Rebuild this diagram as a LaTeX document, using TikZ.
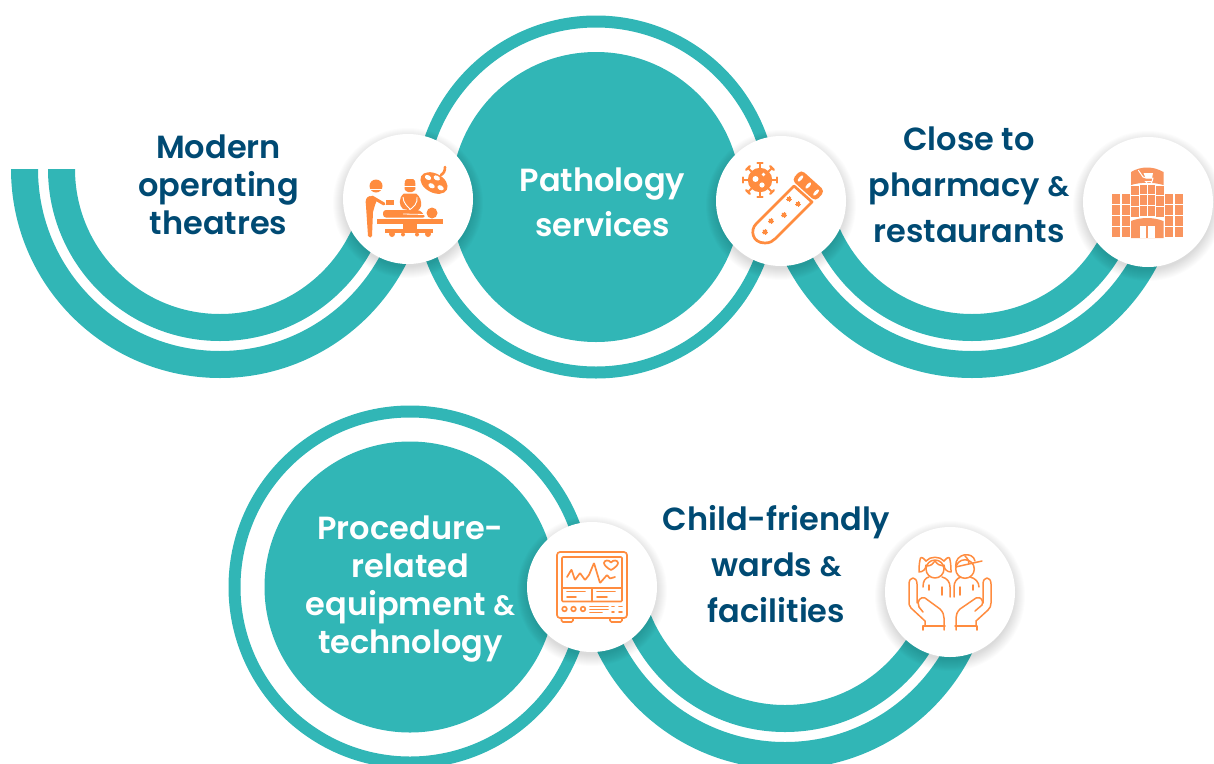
\documentclass[tikz,border=0pt]{standalone}
\usepackage{fontspec}
\setmainfont{Poppins SemiBold}
\usetikzlibrary{calc}
\definecolor{teal1}{HTML}{31B6B6}
\definecolor{navy1}{HTML}{004A73}
\definecolor{org1}{HTML}{FF8C3F}
\definecolor{org2}{HTML}{F9955F}
\newcommand{\amp}{{\fontsize{28}{38}\selectfont\&}}
\tikzset{
  band/.style={draw=teal1,line width=27pt},
  thinring/.style={draw=teal1,line width=12pt},
  disc/.style={circle,fill=teal1,inner sep=0pt,minimum size=#1},
  badge/.style={circle,fill=white,inner sep=0pt,minimum size=130pt},
  dark/.style={text=navy1,align=center,font=\fontsize{32}{#1}\selectfont,inner sep=0pt},
  light/.style={text=white,align=center,font=\fontsize{32}{#1}\selectfont,inner sep=0pt},
  ico/.style={draw=org1,line width=1.9pt,line cap=round,line join=round},
}
\newcommand{\softshadow}[1]{%
  \foreach \r in {75,74,...,64}{\fill[black,opacity=0.012] ($(#1)+(0,4)$) circle[radius=\r];}}
\begin{document}
\begin{tikzpicture}[x=1pt,y=-1pt]
\useasboundingbox (0,0) rectangle (1214,763);
\clip (0,0) rectangle (1214,763);
% centres
\coordinate (a1) at (220,169);
\coordinate (a3) at (972,169);
\coordinate (a5) at (785,560);
\coordinate (m1) at (596,197);
\coordinate (m2) at (410,587);
% arcs
\begin{scope}
\clip (0,169) rectangle (1214,400);
\draw[band] (a1) circle[radius=195.5];
\draw[band] (a1) circle[radius=158.5];
\draw[band] (a3) circle[radius=195.5];
\draw[band] (a3) circle[radius=158.5];
\end{scope}
\begin{scope}
\clip (500,560) rectangle (1214,763);
\draw[band] (a5) circle[radius=195.5];
\draw[band] (a5) circle[radius=158.5];
\end{scope}
% rings and discs
\draw[thinring] (m1) circle[radius=175.5];
\draw[thinring] (m2) circle[radius=175.5];
\node[disc=290pt] (d1) at (m1) {};
\node[disc=291pt] (d2) at (m2) {};
% badges
\coordinate (b1) at (408,199);
\coordinate (b2) at (781,201);
\coordinate (b3) at (1148,202);
\coordinate (b4) at (592,587);
\coordinate (b5) at (950,592);
\softshadow{b1}\softshadow{b2}\softshadow{b3}\softshadow{b4}\softshadow{b5}
\node[badge] (n1) at (b1) {};
\node[badge] (n2) at (b2) {};
\node[badge] (n3) at (b3) {};
\node[badge] (n4) at (b4) {};
\node[badge] (n5) at (b5) {};
% texts
\node[dark=38] (t1) at (218.5,185) {Modern\\operating\\theatres};
\node[light=45] (t2) at (602.5,202) {Pathology\\services};
\node[dark=46] (t3) at (969,185) {Close to\\pharmacy \amp\\restaurants};
\node[light=38] (t4) at (410.5,589.5) {Procedure-\\related\\equipment \amp\\technology};
\node[dark=46] (t5) at (776.5,564) {Child-friendly\\wards \amp\\facilities};
% ---- icon 1: operating theatre
\begin{scope}
\fill[org1] (376,186) circle[radius=6.5];
\fill[white] (369,188.6) rectangle (383,189.6);
\fill[org1] (370,196) .. controls (366,197) and (365,200) .. (366,206) -- (368,236) .. controls (369,238) and (372,238) .. (372,236) -- (373,212) -- (375,205) -- (377,200) -- cycle;
\draw[org1,line width=3pt,line cap=round] (372,197) -- (384,204);
\fill[org1] (385.5,200) rectangle (394,205);
\fill[org1,rounded corners=2pt] (405,179) -- (415,179) -- (415.5,187) .. controls (415.5,190) and (413,192) .. (410,192) .. controls (407,192) and (404.5,190) .. (404.5,187) -- cycle;
\fill[white] (404,186.4) rectangle (416,187.2);
\fill[org1] (404,193.5) -- (416,193.5) .. controls (420,196) and (422,202) .. (421,206) .. controls (420,210) and (417,211) .. (414,211) -- (403,209) .. controls (399,206) and (398,198) .. (404,193.5) -- cycle;
\draw[white,line width=0.9pt] (403,197) .. controls (403,203) and (408,207) .. (410,209);
\draw[white,line width=0.9pt] (417,197) .. controls (418,203) and (414,207) .. (408,211);
\fill[org1,rounded corners=3pt] (383,210) -- (420,210) -- (426,217.5) -- (383,217.5) -- cycle;
\draw[white,line width=0.8pt] (403,214) -- (425,214.5);
\fill[org1] (432,213) circle[radius=5.5];
\fill[org1] (377,219) rectangle (443,224);
\fill[org1] (403,224) rectangle (417,233);
\fill[org1] (385,228.5) rectangle (433,233);
\fill[org1] (392,234) circle[radius=3];
\fill[org1] (428,234) circle[radius=3];
\fill[org1] (403,234.5) circle[radius=2];
\fill[org1] (417,234.5) circle[radius=2];
\fill[org1,rotate around={-28:(434,183)}] (434,183) ellipse[x radius=14.5,y radius=9.5];
\fill[white,rotate around={-28:(428,177.5)}] (428,177.5) ellipse[x radius=3.4,y radius=2.3];
\fill[white,rotate around={-28:(437,177.5)}] (437,178) ellipse[x radius=3.4,y radius=2.3];
\fill[white,rotate around={-28:(432,186)}] (431.5,186) ellipse[x radius=3.4,y radius=2.3];
\fill[white,rotate around={-28:(441,188)}] (440.5,188) ellipse[x radius=3.4,y radius=2.3];
\draw[org1,line width=2.6pt,line cap=round] (441,175) .. controls (444,173) and (445,171) .. (445,167);
\end{scope}
% ---- icon 2: virus and test tube
\begin{scope}
\foreach \a in {0,45,...,315}{
  \draw[org1,line width=2pt] (760,180) -- ++(\a:16);
  \draw[org1,line width=2.2pt,line cap=round] ($(760,180)+(\a:17)+(\a+90:2.6)$) -- ($(760,180)+(\a:17)+(\a-90:2.6)$);
}
\fill[org1] (760,180) circle[radius=12.2];
\fill[white] (755.5,179) circle[radius=3];
\fill[white] (763.5,174.5) circle[radius=1.8];
\fill[white] (762,185) circle[radius=2.6];
\draw[ico,line width=2.7pt] (794,186) -- (756,224) .. controls (750,230) and (752,243) .. (765,243) .. controls (770,243) and (773,241) .. (775.5,238.5) -- (812,202) -- cycle;
\fill[org1,rounded corners=4.5pt,rotate around={-42:(808.3,185.5)}] (792.3,178.5) rectangle (824.3,192.5);
\foreach \s in {-10.5,0,10.5}{
  \fill[white,rotate around={-42:(808.3,185.5)}] ({808.3+\s},185.5) ellipse[x radius=1.6,y radius=3.9];}
\foreach \x/\y/\r in {789/199/2.1,798/204/2.1,784/215/2.3,771/221/2.3,765/232/2.3}{
  \foreach \a in {0,45,...,135}{\draw[org1,line width=0.8pt] ($(\x,\y)+(\a:\r+0.6)$) -- ($(\x,\y)+(\a+180:\r+0.6)$);}
  \fill[org1] (\x,\y) circle[radius=\r];}
\end{scope}
% ---- icon 3: shopping building
\begin{scope}
\foreach \i in {0,1}{\foreach \j in {0,1,2,3}{
  \fill[org2] ({1112.3+\i*9.6},{194+\j*11.1}) rectangle ++(8,10);
  \fill[org2] ({1165+\i*9.6},{194+\j*11.1}) rectangle ++(8,10);
}}
\fill[org2] (1131,172) .. controls (1141,166) and (1153,166) .. (1163.5,172) -- (1163.5,185) .. controls (1153,182) and (1141,182) .. (1131,185) -- cycle;
\foreach \i/\xa/\xb in {0/1131/1139,1/1139.8/1147,2/1147.8/1155,3/1155.8/1163.5}{
  \foreach \j/\ya/\yb in {0/186/195,1/196.3/206,2/207.3/217}{
    \fill[org2] (\xa,{\ya-(\i==0||\i==3?0:1.2)}) rectangle (\xb,{\yb-(\i==0||\i==3?0:1.2)});
  }}
\fill[org2] (1131,221) .. controls (1141,217) and (1153,217) .. (1163.5,221) -- (1163.5,238) -- (1131,238) -- cycle;
\fill[white] (1140,225.5) rectangle (1146,238);
\fill[white] (1148,225.5) rectangle (1154.5,238);
\draw[white,line width=1pt,line cap=round,line join=round] (1138.5,170.5) -- (1143,177) -- (1146,178) -- (1153,178) -- (1152,181.5) -- (1145,181.5);
\fill[white] (1143.5,173) -- (1153,173) -- (1152,178) -- (1145.5,178) -- cycle;
\fill[white] (1146.5,182.8) circle[radius=1];
\fill[white] (1151.5,182.8) circle[radius=1];
\end{scope}
% ---- icon 4: monitor
\begin{scope}[ico,line width=1.7pt]
\draw[rounded corners=3pt] (557,552) rectangle (627,618);
\draw[rounded corners=1pt] (562,557) rectangle (622,601.5);
\draw (562,588) -- (622,588);
\draw (592,588) -- (592,601.5);
\draw[rounded corners=1.5pt] (561.5,618) -- (561.5,622) -- (573,622) -- (573,618);
\draw[rounded corners=1.5pt] (610,618) -- (610,622) -- (622,622) -- (622,618);
\draw (567,591.5) -- (585,591.5) (567,597) -- (576,597);
\draw (597,591.5) -- (615,591.5) (597,597) -- (607,597);
\draw[rounded corners=0.5pt] (567,577) -- (571.5,569.5) -- (575,580) -- (580,573) -- (585,580) -- (589,575) -- (594,563) -- (600,583) -- (607,575) -- (610,578.5) -- (615,577);
\draw (611,570) .. controls (607,568) and (604,565) .. (604,563) .. controls (604,560) and (609,559.5) .. (611,562.5) .. controls (613,559.5) and (618,560) .. (618,563) .. controls (618,565) and (615,568) .. (611,570) -- cycle;
\foreach \x in {564.5,573.5,583}{\draw (\x,609) circle[radius=2.3];}
\draw (590,606.5) -- (608,606.5) (590,609.5) -- (608,609.5) (590,612.5) -- (602,612.5);
\draw (612,606.5) -- (614,606.5) (619,606.5) -- (622,606.5) (612,612) -- (614,612) (619,612) -- (622,612);
\end{scope}
% ---- icon 5: children in hands
\begin{scope}[ico,line width=1.5pt]
\draw (935,569) circle[radius=9];
\draw (926.5,566) .. controls (931,566) and (933,564) .. (935,561) .. controls (937,564) and (940,566) .. (943.5,566);
\draw (926,561) .. controls (922,556) and (920,557) .. (920,560) .. controls (919,564) and (919,570) .. (919,572) .. controls (923,572) and (926,569) .. (926,565);
\draw (944,561) .. controls (948,556) and (950,557) .. (950,560) .. controls (951,564) and (951,570) .. (951,572) .. controls (947,572) and (944,569) .. (944,565);
\draw (926,561) .. controls (930,556) and (940,556) .. (944,561);
\draw (965,569) circle[radius=9.3];
\draw (955.7,566) .. controls (955,553) and (973,551) .. (975,561);
\draw (955.5,567) -- (982,561);
\draw (965,556) .. controls (968,559) and (969,561) .. (969,563.5);
\draw (923,587) .. controls (923,581) and (925,578) .. (929,577) (942,577) .. controls (947,578) and (950,582) .. (950,587) -- (950,597);
\draw (954,597) -- (954,587) .. controls (954,582) and (957,578) .. (961,577) (970,577) .. controls (975,578) and (979,582) .. (979,587);
\draw (929,585) -- (929,590) (942,587) -- (942,595);
\draw (960,587) -- (960,595) (973,585) -- (973,590);
% left hand
\draw (925,626) -- (925,621) -- (911,608) .. controls (909,606) and (909,604) .. (909,600) -- (909,584) .. controls (909,576) and (917,576) .. (917,584) -- (917,603);
\draw (923,612) -- (919,607) .. controls (916,601) and (921,596) .. (925,598) -- (940,609) .. controls (943,612) and (944,615) .. (944,618) -- (944,630);
\draw (923,630) -- (923,626) -- (945,626);
% right hand
\draw (976,626) -- (976,621) -- (988,610) .. controls (990,608) and (991,606) .. (991,603) -- (991,584) .. controls (991,576) and (983,576) .. (983,584) -- (983,603);
\draw (977,630) -- (977,626) -- (955,626);
\draw (956,630) -- (956,618) .. controls (956,615) and (957,612) .. (960,609) -- (976,598) .. controls (981,596) and (984,601) .. (982,605) -- (975,611);
\end{scope}
\end{tikzpicture}
\end{document}
